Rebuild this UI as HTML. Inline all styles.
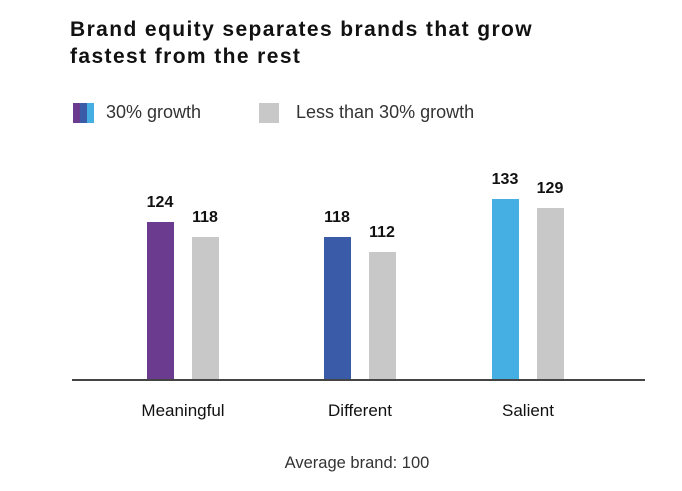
<!DOCTYPE html>
<html><head><style>
body{margin:0;width:682px;height:491px;background:#fff;font-family:"Liberation Sans",sans-serif;position:relative;overflow:hidden}
.a{position:absolute}
.t{left:70px;top:16px;font-size:21px;font-weight:bold;color:#111;line-height:27px;letter-spacing:1.4px}
.b{position:absolute;width:27px}
.v{position:absolute;font-weight:bold;font-size:16px;color:#111;width:40px;text-align:center}
.c{position:absolute;font-size:17px;color:#111;top:401px;text-align:center;width:140px}
</style></head><body>
<div class="a t">Brand equity separates brands that grow<br>fastest from the rest</div>
<div class="a" style="left:73px;top:103px;width:7px;height:20px;background:#6a3b8f"></div>
<div class="a" style="left:80px;top:103px;width:7px;height:20px;background:#3a5ca8"></div>
<div class="a" style="left:87px;top:103px;width:7px;height:20px;background:#45aee3"></div>
<div class="a" style="left:106px;top:102px;font-size:18px;color:#333">30% growth</div>
<div class="a" style="left:259px;top:103px;width:20px;height:20px;background:#c8c8c8"></div>
<div class="a" style="left:296px;top:102px;font-size:18px;color:#333">Less than 30% growth</div>

<div class="b" style="left:147px;top:222px;height:157px;background:#6a3b8f"></div>
<div class="b" style="left:192px;top:237px;height:142px;background:#c8c8c8"></div>
<div class="b" style="left:324px;top:237px;height:142px;background:#3a5ca8"></div>
<div class="b" style="left:369px;top:252px;height:127px;background:#c8c8c8"></div>
<div class="b" style="left:492px;top:199px;height:180px;background:#45aee3"></div>
<div class="b" style="left:537px;top:208px;height:171px;background:#c8c8c8"></div>

<div class="v" style="left:140px;top:194px">124</div>
<div class="v" style="left:185px;top:209px">118</div>
<div class="v" style="left:317px;top:209px">118</div>
<div class="v" style="left:362px;top:224px">112</div>
<div class="v" style="left:485px;top:171px">133</div>
<div class="v" style="left:530px;top:180px">129</div>

<div class="a" style="left:72px;top:379px;width:573px;height:1.5px;background:#444"></div>
<div class="c" style="left:113px">Meaningful</div>
<div class="c" style="left:290px">Different</div>
<div class="c" style="left:458px">Salient</div>
<div class="a" style="left:237px;top:454px;width:240px;text-align:center;font-size:16.5px;color:#333">Average brand: 100</div>
</body></html>
